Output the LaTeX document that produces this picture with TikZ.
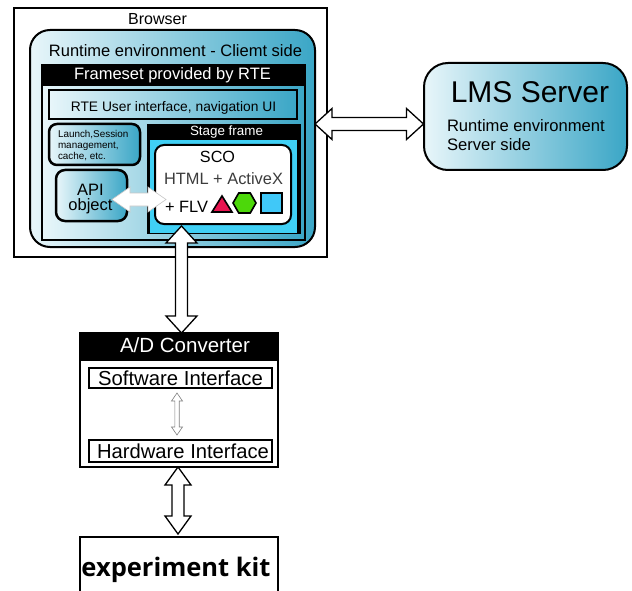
\documentclass[tikz,border=0pt]{standalone}
\usepackage{fontspec}
\setmainfont{Liberation Sans}
\newfontfamily\kitfont{Open Sans}
\usetikzlibrary{calc}
\definecolor{tealdark}{RGB}{58,166,198}
\definecolor{teallight}{RGB}{232,246,250}
\definecolor{stagecyan}{RGB}{64,208,245}
\definecolor{shred}{RGB}{232,20,80}
\definecolor{shgreen}{RGB}{76,216,10}
\definecolor{shblue}{RGB}{64,200,248}
\definecolor{htmlgray}{RGB}{60,60,60}
% horizontal double arrow: style, from, to, shaft half, head half, head length
\newcommand\hdblarrow[6]{%
\draw[#1] let \p1=(#2), \p2=(#3) in
 (\x1,\y1) -- (\x1+#6pt,\y1+#5pt) -- (\x1+#6pt,\y1+#4pt) -- (\x2-#6pt,\y1+#4pt)
 -- (\x2-#6pt,\y1+#5pt) -- (\x2,\y1) -- (\x2-#6pt,\y1-#5pt) -- (\x2-#6pt,\y1-#4pt)
 -- (\x1+#6pt,\y1-#4pt) -- (\x1+#6pt,\y1-#5pt) -- cycle;}
% vertical double arrow: style, top, bottom, shaft half, head half, head length
\newcommand\vdblarrow[6]{%
\draw[#1] let \p1=(#2), \p2=(#3) in
 (\x1,\y1) -- (\x1+#5pt,\y1-#6pt) -- (\x1+#4pt,\y1-#6pt) -- (\x1+#4pt,\y2+#6pt)
 -- (\x1+#5pt,\y2+#6pt) -- (\x1,\y2) -- (\x1-#5pt,\y2+#6pt) -- (\x1-#4pt,\y2+#6pt)
 -- (\x1-#4pt,\y1-#6pt) -- (\x1-#5pt,\y1-#6pt) -- cycle;}
\begin{document}
\begin{tikzpicture}[x=1pt,y=-1pt,
  box/.style={draw=black, inner sep=0pt, outer sep=0pt, anchor=north west},
  grad/.style={left color=teallight, right color=tealdark},
  fs/.style={inner sep=0pt, outer sep=0pt, font=\fontsize{#1pt}{#1pt}\selectfont},
  bigarrow/.style={draw=black, line width=1.3pt, fill=white, line join=miter},
  apiarrow/.style={draw=gray!45, line width=0.6pt, fill=white},
  smallarrow/.style={draw=gray, line width=0.6pt, fill=white}]
\useasboundingbox (0,0) rectangle (632,591);

% Browser
\node[box, line width=1.6pt, minimum width=313pt, minimum height=249pt] (browser) at (14,8) {};
\node[fs=16, anchor=base] (browserlbl) at (157.5,25) {Browser};

% Runtime environment client side
\node[box, line width=2pt, grad, rounded corners=20pt, minimum width=285pt, minimum height=217pt] (rte) at (30,30) {};
\node[fs=16.5, anchor=base] (rtelbl) at (175.5,57) {Runtime environment - Cliemt side};

% Frameset
\node[box, line width=2.5pt, grad, minimum width=263pt, minimum height=175pt] (frameset) at (42,65) {};
\node[box, draw=black, fill=black, minimum width=263pt, minimum height=20pt] (fshead) at (42,65) {};
\node[fs=16.5, anchor=base, text=white] (fslbl) at (172.5,80) {Frameset provided by RTE};

% RTE user interface
\node[box, line width=2pt, grad, minimum width=248pt, minimum height=29pt] (rteui) at (49,90) {};
\node[fs=13.8, anchor=base] (rteuilbl) at (173.5,111.5) {RTE User interface, navigation UI};

% Launch box
\node[box, line width=2.5pt, grad, rounded corners=8pt, minimum width=91pt, minimum height=41pt] (launch) at (49,124) {};
\node[inner sep=0pt, outer sep=0pt, align=left, anchor=north west, font=\fontsize{9.9pt}{11.2pt}\selectfont] (launchlbl) at (58,130) {Launch,Session\\management,\\cache, etc.};

% API object
\node[box, line width=2.5pt, grad, rounded corners=9pt, minimum width=71pt, minimum height=51pt] (api) at (56,170) {};
\node[inner sep=0pt, outer sep=0pt, align=center, font=\fontsize{16.5pt}{15pt}\selectfont] (apilbl) at (90.5,199) {API\\object};

% Stage frame
\node[box, draw=black, fill=black, minimum width=153pt, minimum height=109pt] (stage) at (147,124) {};
\node[box, draw=none, fill=stagecyan, minimum width=147pt, minimum height=93pt] (stagein) at (150,140) {};
\node[fs=13.4, anchor=base, text=white] (stagelbl) at (226.5,136) {Stage frame};

% SCO
\node[box, line width=2pt, fill=white, rounded corners=9pt, minimum width=136pt, minimum height=79pt] (sco) at (155,145) {};
\node[fs=16.2, anchor=base] (scolbl) at (217.5,163) {SCO};
\node[fs=16.4, anchor=base, text=htmlgray] (htmllbl) at (223.5,185) {HTML + ActiveX};
\node[fs=16.4, anchor=base west] (flvlbl) at (165,212) {+ FLV};
\draw[line width=1.6pt, fill=shred, line join=miter] (212,212) -- (232,212) -- (222,196) -- cycle;
\draw[line width=1.6pt, fill=shgreen] (233,203) -- (238.75,193) -- (250.25,193) -- (256,203) -- (250.25,213) -- (238.75,213) -- cycle;
\draw[line width=1.6pt, fill=shblue] (261,193) rectangle (282,213);

% API <-> SCO arrow
\coordinate (apiarrL) at (112,199.5);
\coordinate (apiarrR) at (166,199.5);
\hdblarrow{apiarrow}{apiarrL}{apiarrR}{6.5}{12.5}{18}

% LMS server
\node[box, line width=2pt, grad, rounded corners=24pt, minimum width=203pt, minimum height=107pt] (lms) at (424,63) {};
\node[fs=30, anchor=base] (lmslbl) at (530,103) {LMS Server};
\node[fs=16.6, anchor=base west] (lmssub1) at (447,132) {Runtime environment};
\node[fs=16.6, anchor=base west] (lmssub2) at (447,151) {Server side};

% Browser <-> LMS arrow
\coordinate (lmsarrL) at (315,124);
\coordinate (lmsarrR) at (423.5,124);
\hdblarrow{bigarrow}{lmsarrL}{lmsarrR}{6.5}{15.5}{17}

% A/D converter
\node[box, line width=2pt, fill=white, minimum width=198pt, minimum height=134pt] (adc) at (80,333) {};
\node[box, draw=black, fill=black, minimum width=198pt, minimum height=27pt] (adchead) at (80,333) {};
\node[fs=20.5, anchor=base, text=white] (adclbl) at (185,352) {A/D Converter};
\node[box, line width=2.5pt, fill=white, minimum width=183pt, minimum height=20pt] (sw) at (89,368) {};
\node[fs=20.3, anchor=base] (swlbl) at (180.5,385) {Software Interface};
\node[box, line width=2.5pt, fill=white, minimum width=183pt, minimum height=22pt] (hw) at (89,440) {};
\node[fs=20.2, anchor=base] (hwlbl) at (183,458) {Hardware Interface};
\coordinate (swhwT) at (177,393);
\coordinate (swhwB) at (177,435);
\vdblarrow{smallarrow}{swhwT}{swhwB}{2.2}{5.5}{8}

% SCO <-> A/D arrow
\coordinate (scoarrT) at (181.5,226);
\coordinate (scoarrB) at (181.5,333);
\vdblarrow{bigarrow}{scoarrT}{scoarrB}{6}{15.5}{17}

% experiment kit
\node[box, draw=none, minimum width=198pt, minimum height=60pt] (kit) at (80,537) {};
\draw[line width=2.5pt, line join=miter] (kit.south west) -- (kit.north west) -- (kit.north east) -- (kit.south east);
\node[inner sep=0pt, outer sep=0pt, anchor=base, font=\kitfont\bfseries\fontsize{25.5pt}{25.5pt}\selectfont] (kitlbl) at (176,576) {experiment kit};

% A/D <-> kit arrow
\coordinate (kitarrT) at (178,467);
\coordinate (kitarrB) at (178,534);
\vdblarrow{bigarrow}{kitarrT}{kitarrB}{6}{13}{18}
\end{tikzpicture}
\end{document}
